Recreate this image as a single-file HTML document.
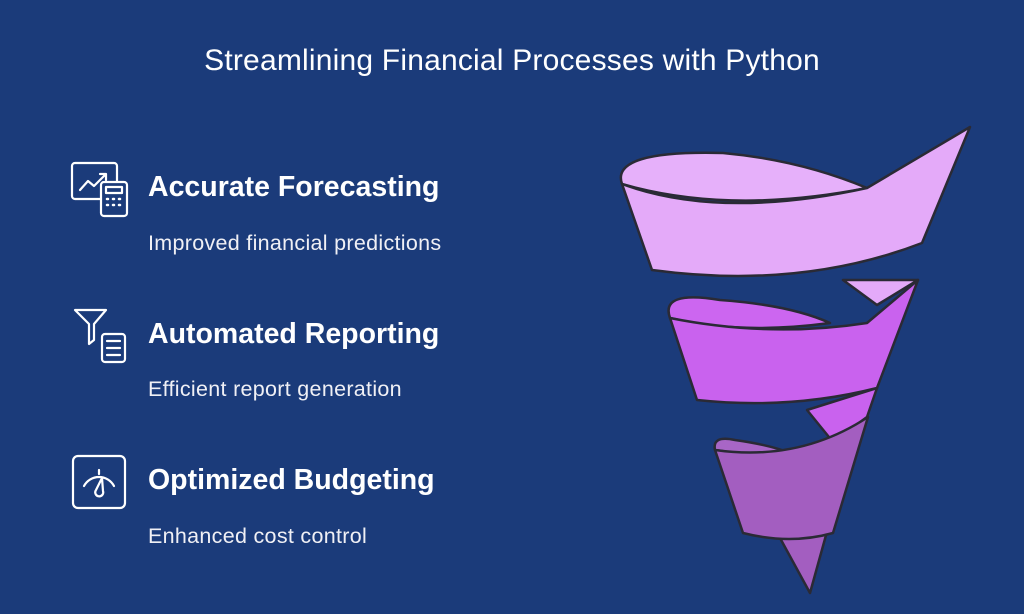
<!DOCTYPE html>
<html><head><style>
body{margin:0;width:1024px;height:614px;background:#1b3b7a;font-family:"Liberation Sans",sans-serif;color:#fff;position:relative;overflow:hidden}
.t{position:absolute;left:0;width:1024px;text-align:center;top:44px;font-size:30px;letter-spacing:0.2px}
.h{position:absolute;left:148px;font-size:28.5px;font-weight:bold}
.s{position:absolute;left:148px;font-size:21.5px;color:#f0f0f5;letter-spacing:0.3px}
svg{position:absolute;left:0;top:0}
</style></head><body>
<div class="t">Streamlining Financial Processes with Python</div>
<div class="h" style="top:171px">Accurate Forecasting</div>
<div class="s" style="top:231px">Improved financial predictions</div>
<div class="h" style="top:318px">Automated Reporting</div>
<div class="s" style="top:377px">Efficient report generation</div>
<div class="h" style="top:464px">Optimized Budgeting</div>
<div class="s" style="top:524px">Enhanced cost control</div>
<svg width="1024" height="614" fill="none" stroke="#fff" stroke-width="2.2" stroke-linejoin="round" stroke-linecap="round">
 <rect x="72" y="163" width="45" height="36" rx="3"/>
 <path d="M80 190 L88 181 L94 186 L106 174 M100 174 H106 V180"/>
 <rect x="101" y="182" width="26" height="34" rx="3" fill="#1b3b7a"/>
 <rect x="106" y="187" width="16" height="6"/>
 <path d="M107 199h1M113 199h1M119 199h1M107 205h1M113 205h1M119 205h1" stroke-width="2.5"/>
 <path d="M75 310 H106 L94 324 V340 L89 344 V324 Z"/>
 <rect x="102" y="334" width="23" height="28" rx="3"/>
 <path d="M107 341h13M107 348h13M107 355h13"/>
 <rect x="73" y="456" width="52" height="52" rx="5"/>
 <path d="M84 486 A17 17 0 0 1 114 486 M99 470 V474"/>
 <path d="M102 478 L96 490 A4 4 0 1 0 103 491 Z"/>
 <g stroke="#2a2a35" stroke-width="2.5">
  <path d="M843,280 L918,280 L877,305 Z" fill="#e4aaf9"/>
  <path d="M622,184 Q610,150 723,153 Q800,160 867,188 Q730,215 622,184 Z" fill="#e6b0fa"/>
  <path d="M622,184 Q720,220 867,188 L970,127 L922,243 Q800,290 652,270 Z" fill="#e4aaf9"/>
  <path d="M807,410 L877,388 L867,417 L833,442 Z" fill="#c962ee"/>
  <path d="M670,318 Q660,290 720,300 Q790,305 830,323 Q740,335 670,318 Z" fill="#cc66f0"/>
  <path d="M670,318 Q770,338 867,323 L918,280 L877,388 Q790,410 697,400 Z" fill="#c962ee"/>
  <path d="M780,538 L810,593 L828,528 Z" fill="#a35ec0"/>
  <path d="M715,450 Q712,435 735,440 Q770,445 790,453 Q750,456 715,450 Z" fill="#a866c6"/>
  <path d="M715,450 Q800,462 868,417 L833,533 Q790,545 743,533 Z" fill="#a35ec0"/>
 </g>
</svg>
</body></html>
